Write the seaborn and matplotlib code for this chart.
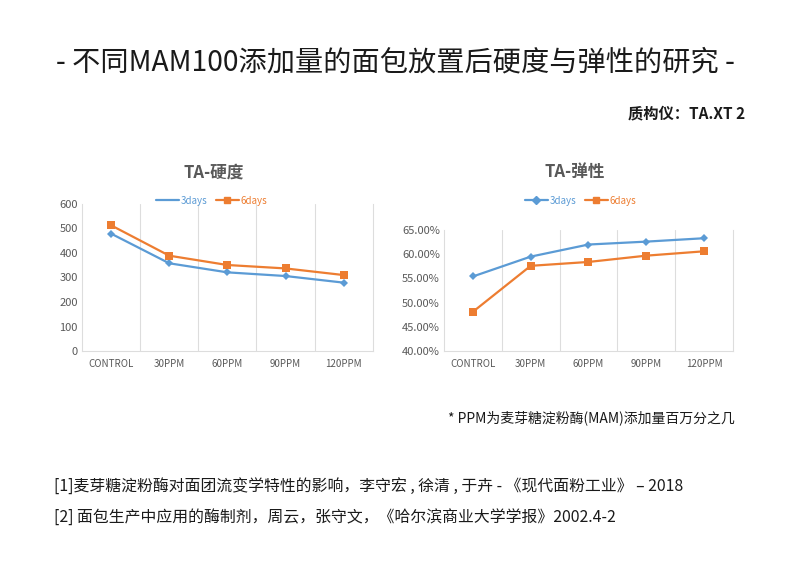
import pandas as pd
import numpy as np
import matplotlib.pyplot as plt
import seaborn as sns
from matplotlib.lines import Line2D
from matplotlib.ticker import MultipleLocator, FixedLocator

# Data
categories = ["CONTROL", "30PPM", "60PPM", "90PPM", "120PPM"]
hardness_3days = [479, 358, 321, 306, 279]
hardness_6days = [513, 389, 351, 337, 310]
spring_3days = [55.4, 59.5, 62.0, 62.6, 63.3]
spring_6days = [48.1, 57.6, 58.4, 59.7, 60.6]
series_names = ["3days", "6days"]

BLUE = "#5B9BD5"
ORANGE = "#ED7D31"
GRID = "#DDDDDD"
TICK = "#595959"

sns.set_theme(style="white")
plt.rcParams["font.family"] = ["Noto Sans CJK SC", "DejaVu Sans"]


def long_df(a, b):
    return pd.DataFrame({
        "cat": categories * 2,
        "pos": list(range(len(categories))) * 2,
        "value": a + b,
        "series": ["3days"] * len(a) + ["6days"] * len(b),
    })


df_h = long_df(hardness_3days, hardness_6days)
df_s = long_df(spring_3days, spring_6days)

fig = plt.figure(figsize=(7.9, 5.82), dpi=100)
ax1 = fig.add_axes([0.1038, 0.3969, 0.368, 0.2526])
ax2 = fig.add_axes([0.562, 0.3969, 0.3658, 0.2079])

palette = {"3days": BLUE, "6days": ORANGE}
markers = {"3days": "D", "6days": "s"}

for ax, df in [(ax1, df_h), (ax2, df_s)]:
    sns.lineplot(data=df, x="pos", y="value", hue="series", style="series",
                 markers=markers, dashes=False, palette=palette, ax=ax,
                 linewidth=1.6, markersize=5, markeredgewidth=0, legend=False)
    # bigger square markers for 6days
    for line in ax.get_lines():
        if line.get_marker() == "s":
            line.set_markersize(6)
        else:
            line.set_markersize(4.5)
    ax.set_xlim(-0.5, len(categories) - 0.5)
    ax.set_xticks(range(len(categories)))
    ax.set_xticklabels(categories)
    ax.xaxis.set_minor_locator(FixedLocator(np.arange(0.5, len(categories) - 1, 1.0)))
    ax.grid(False)
    ax.grid(True, which="minor", axis="x", color=GRID, linewidth=0.8)
    ax.tick_params(axis="x", which="both", length=0, labelsize=7,
                   labelcolor=TICK, pad=6)
    ax.tick_params(axis="y", length=0, labelsize=8, labelcolor=TICK, pad=3)
    ax.set_xlabel("")
    ax.set_ylabel("")
    ax.spines["top"].set_visible(False)
    for side in ["bottom", "left", "right"]:
        ax.spines[side].set_color(GRID)
        ax.spines[side].set_linewidth(0.8)

ax1.set_ylim(0, 600)
ax1.yaxis.set_major_locator(MultipleLocator(100))
ax2.set_ylim(40, 65)
ax2.yaxis.set_major_locator(MultipleLocator(5))
ax2.set_yticklabels([f"{v:.2f}%" for v in ax2.get_yticks()])

# Subtitles
fig.text(0.27, 0.704, "TA-硬度", ha="center", va="center", fontsize=12,
         fontweight="bold", color=TICK)
fig.text(0.728, 0.704, "TA-弹性", ha="center", va="center", fontsize=12,
         fontweight="bold", color=TICK)

# Legends
h_left = [Line2D([], [], color=BLUE, lw=1.6),
          Line2D([], [], color=ORANGE, lw=1.6, marker="s", markersize=5)]
h_right = [Line2D([], [], color=BLUE, lw=1.6, marker="D", markersize=4),
           Line2D([], [], color=ORANGE, lw=1.6, marker="s", markersize=5)]
for handles, x in [(h_left, 0.268), (h_right, 0.735)]:
    leg = fig.legend(handles, series_names, loc="center", bbox_to_anchor=(x, 0.655),
                     ncol=2, frameon=False, fontsize=7, handlelength=2.4,
                     columnspacing=0.8, handletextpad=0.2)
    for t, c in zip(leg.get_texts(), [BLUE, ORANGE]):
        t.set_color(c)

# Titles and notes
fig.text(0.5, 0.893, "- 不同MAM100添加量的面包放置后硬度与弹性的研究 -",
         ha="center", va="center", fontsize=20.3, color="#1a1a1a")
fig.text(0.943, 0.805, "质构仪：TA.XT 2", ha="right", va="center",
         fontsize=11, fontweight="bold", color="#1a1a1a")
fig.text(0.93, 0.283, "* PPM为麦芽糖淀粉酶(MAM)添加量百万分之几", ha="right",
         va="center", fontsize=10, color="#1a1a1a")
fig.text(0.068, 0.162,
         "[1]麦芽糖淀粉酶对面团流变学特性的影响，李守宏 , 徐清 , 于卉 - 《现代面粉工业》 – 2018",
         ha="left", va="center", fontsize=11.4, color="#1a1a1a")
fig.text(0.068, 0.111,
         "[2] 面包生产中应用的酶制剂，周云，张守文，《哈尔滨商业大学学报》2002.4-2",
         ha="left", va="center", fontsize=11.4, color="#1a1a1a")

fig.savefig("out.png", dpi=100, facecolor="white")
